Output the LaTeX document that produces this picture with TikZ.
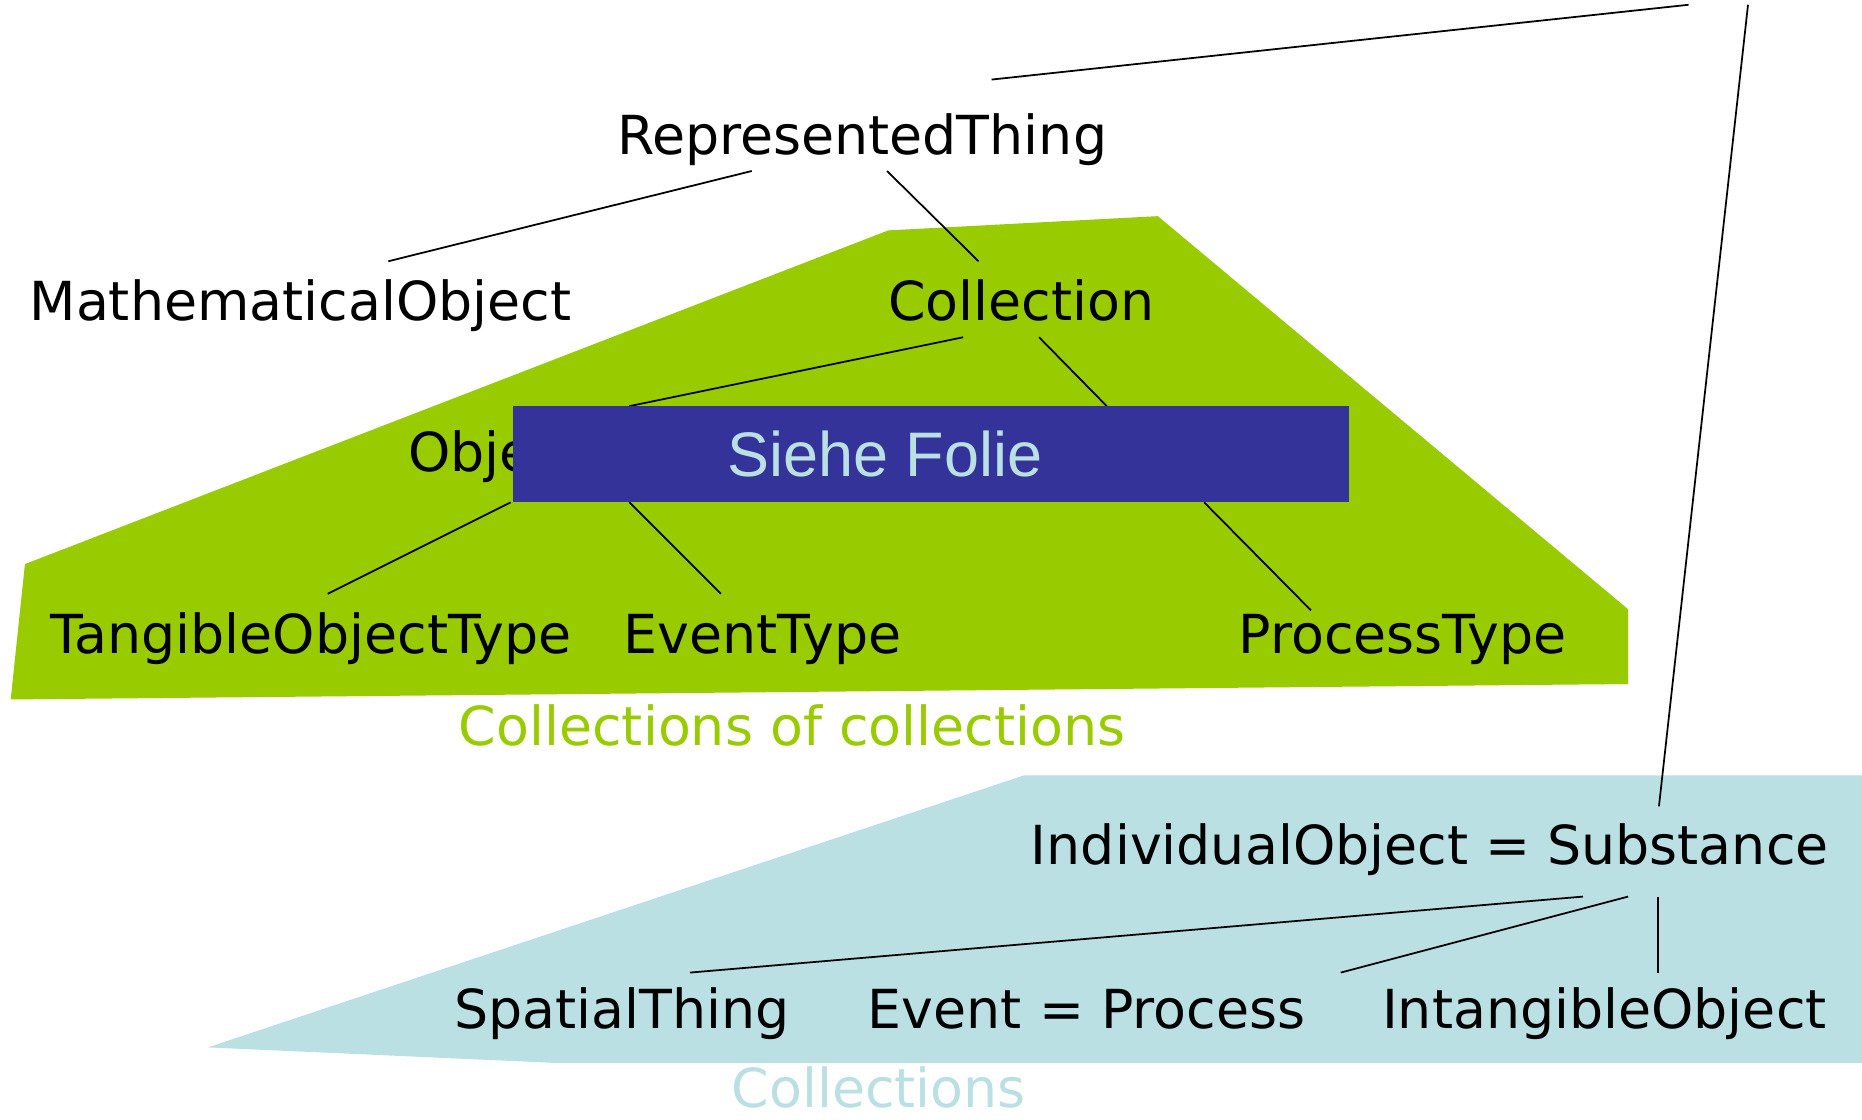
\documentclass[tikz,border=0pt]{standalone}
\usepackage{fontspec}
\setmainfont{DejaVu Sans}
\newfontfamily\arialfont{Liberation Sans}
\definecolor{cgreen}{HTML}{99CC00}
\definecolor{clight}{HTML}{BBE0E3}
\definecolor{cbox}{HTML}{333399}
\begin{document}
\begin{tikzpicture}[x=0.011875cm,y=-0.011875cm,
  lbl/.style={inner sep=0pt,anchor=base,font=\fontsize{15.3}{18}\selectfont},
  conn/.style={line width=0.5pt,black}]
\useasboundingbox (0,0) rectangle (1568,943);
% regions
\fill[cgreen] (748,194) -- (975,182) -- (1371,513) -- (1371,576) -- (9,589) -- (21,475) -- cycle;
\fill[clight] (862,653) -- (1568,653) -- (1568,895) -- (466,895) -- (175,882) -- cycle;
% labels
\node[lbl] (rt) at (726,130) {RepresentedThing};
\node[lbl] (mo) at (253,270) {MathematicalObject};
\node[lbl] (col) at (860,270) {Collection};
\node[lbl,anchor=base west] (ot) at (343,397) {ObjectType};
\node[lbl] (tot) at (262,550) {TangibleObjectType};
\node[lbl] (et) at (642,550) {EventType};
\node[lbl] (pt) at (1181,550) {ProcessType};
\node[lbl,text=cgreen] (coc) at (667,628) {Collections of collections};
\node[lbl] (io) at (1204,728) {IndividualObject = Substance};
\node[lbl] (st) at (524,866) {SpatialThing};
\node[lbl] (ep) at (915,866) {Event = Process};
\node[lbl] (iob) at (1351,866) {IntangibleObject};
\node[lbl,text=clight] (cols) at (740,933) {Collections};
% connector end points
\coordinate (top1) at (1422,4);
\coordinate (top2) at (1472,4);
\coordinate (rt-ne) at (835,67);
\coordinate (io-n) at (1397,679);
\coordinate (rt-sw) at (633,144);
\coordinate (rt-se) at (747,144);
\coordinate (mo-n) at (327,220);
\coordinate (col-n) at (824,220);
\coordinate (col-sw) at (811,284);
\coordinate (col-se) at (875,284);
\coordinate (ot-n) at (530,342);
\coordinate (x-n) at (932,342);
\coordinate (ot-s1) at (430,423);
\coordinate (ot-s2) at (530,423);
\coordinate (x-s) at (1014,423);
\coordinate (tot-n) at (276,500);
\coordinate (et-n) at (607,500);
\coordinate (pt-n) at (1104,514);
\coordinate (io-s1) at (1333,755);
\coordinate (io-s2) at (1371,755);
\coordinate (io-s3) at (1396,755);
\coordinate (st-n) at (581,819);
\coordinate (ep-n) at (1129,819);
\coordinate (iob-n) at (1396,819);
% connectors
\draw[conn] (rt-ne) -- (top1);
\draw[conn] (top2) -- (io-n);
\draw[conn] (rt-sw) -- (mo-n);
\draw[conn] (rt-se) -- (col-n);
\draw[conn] (col-sw) -- (ot-n);
\draw[conn] (col-se) -- (x-n);
\draw[conn] (ot-s1) -- (tot-n);
\draw[conn] (ot-s2) -- (et-n);
\draw[conn] (x-s) -- (pt-n);
\draw[conn] (io-s1) -- (st-n);
\draw[conn] (io-s2) -- (ep-n);
\draw[conn] (io-s3) -- (iob-n);
% overlay box
\fill[cbox] (432,342) rectangle (1136,423);
\node[inner sep=0pt,anchor=base,text=clight,font=\arialfont\fontsize{17.9}{20}\selectfont] (sf) at (745,401) {Siehe Folie};
\end{tikzpicture}
\end{document}
